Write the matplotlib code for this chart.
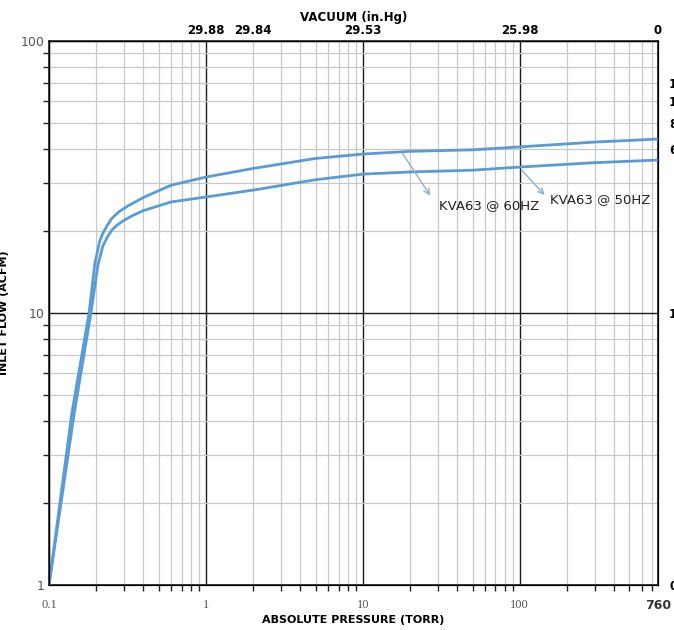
import numpy as np
import matplotlib
matplotlib.use("Agg")
import matplotlib.pyplot as plt
from matplotlib.ticker import FixedLocator, NullFormatter, NullLocator, LogLocator

# (torr, ACFM)
p_60 = [0.1, 0.14, 0.18, 0.196, 0.21, 0.22, 0.234, 0.25, 0.28, 0.32, 0.4, 0.6, 1, 2, 5, 10, 20, 50, 100, 300, 760]
q_60 = [1, 4.3, 10, 15.2, 18.3, 19.6, 20.9, 22.2, 23.6, 24.8, 26.6, 29.5, 31.6, 34, 37, 38.4, 39.3, 39.8, 40.8, 42.5, 43.6]
p_50 = [0.1, 0.145, 0.185, 0.205, 0.22, 0.235, 0.252, 0.27, 0.3, 0.34, 0.4, 0.6, 1, 2, 5, 10, 20, 50, 100, 300, 760]
q_50 = [1, 4.3, 10, 15.0, 17.6, 19.0, 20.2, 21.0, 21.9, 22.8, 23.8, 25.6, 26.7, 28.3, 30.9, 32.4, 33, 33.5, 34.4, 35.7, 36.5]

# secondary scales
vac_pos = [1, 2, 10, 100, 760]
vac_lab = ["29.88", "29.84", "29.53", "25.98", "0"]
m3h_pos = [70, 60, 50, 40, 10, 1]
m3h_lab = ["119", "102", "85", "68", "17", "0"]

line_col = "#5b9bd5"
arrow_col = "#8fb0cc"

fig = plt.figure(figsize=(6.74, 6.30), dpi=100)
ax = fig.add_axes([49/674, 1-585/630, (658-49)/674, (585-41)/630])
ax.set_xscale("log")
ax.set_yscale("log")
ax.set_xlim(0.1, 760)
ax.set_ylim(1, 100)

ax.plot(p_60, q_60, color=line_col, lw=2.0, zorder=3, solid_joinstyle="round")
ax.plot(p_50, q_50, color=line_col, lw=2.0, zorder=3, solid_joinstyle="round")

# top axis: vacuum
axt = ax.twiny()
axt.set_xscale("log")
axt.set_xlim(ax.get_xlim())
axt.xaxis.set_major_locator(FixedLocator(vac_pos))
axt.set_xticklabels(vac_lab)
axt.xaxis.set_minor_locator(NullLocator())
axt.tick_params(length=0, pad=3, labelsize=8.5)
for lab in axt.get_xticklabels():
    lab.set_fontweight("bold")
axt.set_xlabel("VACUUM (in.Hg)", fontsize=8.5, fontweight="bold", labelpad=2)

# right axis: m3/h (cut by figure edge like the original)
axr = ax.twinx()
axr.set_yscale("log")
axr.set_ylim(ax.get_ylim())
axr.yaxis.set_major_locator(FixedLocator(m3h_pos))
axr.set_yticklabels(m3h_lab)
axr.yaxis.set_minor_locator(NullLocator())
axr.tick_params(length=0, pad=8, labelsize=8.5)
for lab in axr.get_yticklabels():
    lab.set_fontweight("bold")

# grid
ax.grid(which="major", color="#1a1a1a", lw=1.0, zorder=1)
ax.grid(which="minor", color="#c8c8c8", lw=0.9, zorder=0)
for s in ax.spines.values():
    s.set_color("#222222")
    s.set_linewidth(1.2)

ax.set_xticks([0.1, 1, 10, 100, 760])
ax.set_xticklabels(["0.1", "1", "10", "100", "760"])
ax.set_yticks([1, 10, 100])
ax.set_yticklabels(["1", "10", "100"])
ax.xaxis.set_minor_locator(LogLocator(subs=np.arange(2, 10)))
ax.yaxis.set_minor_locator(LogLocator(subs=np.arange(2, 10)))
ax.xaxis.set_minor_formatter(NullFormatter())
ax.yaxis.set_minor_formatter(NullFormatter())
ax.tick_params(which="major", length=0, labelsize=9, labelcolor="#555555")
ax.tick_params(axis="x", which="major", pad=10)
ax.tick_params(which="minor", length=4, width=1, direction="out", color="#222222",
               bottom=True, left=True)
for lab in ax.get_xticklabels()[:-1]:
    lab.set_family("Liberation Serif")
ax.get_xticklabels()[-1].set_fontweight("bold")
ax.get_xticklabels()[-1].set_color("#333333")

ax.set_xlabel("ABSOLUTE PRESSURE (TORR)", fontsize=8, fontweight="bold", labelpad=2)
ax.set_ylabel("INLET FLOW (ACFM)", fontsize=8, fontweight="bold", labelpad=8)

# callouts
ax.annotate("", xy=(27.5, 26.5), xytext=(17.5, 39.4),
            arrowprops=dict(arrowstyle="->", color=arrow_col, lw=1))
ax.text(30.5, 24.9, "KVA63 @ 60HZ", fontsize=9.5, color="#222222", va="center")
ax.annotate("", xy=(148, 26.7), xytext=(100, 34.1),
            arrowprops=dict(arrowstyle="->", color=arrow_col, lw=1))
ax.text(155, 26.2, "KVA63 @ 50HZ", fontsize=9.5, color="#222222", va="center")

fig.savefig("out.png", dpi=100)
